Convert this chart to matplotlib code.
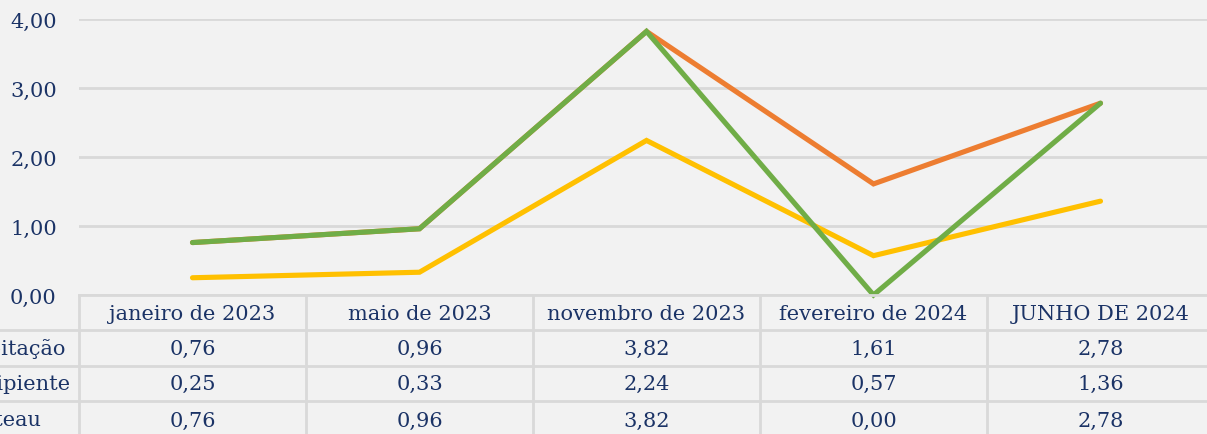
import numpy as np
import matplotlib.pyplot as plt

# data
categories = ['janeiro de 2023', 'maio de 2023', 'novembro de 2023',
              'fevereiro de 2024', 'JUNHO DE 2024']
series_names = ['Precipitação', 'Incipiente', 'Plateau']
precipitacao = [0.76, 0.96, 3.82, 1.61, 2.78]
incipiente = [0.25, 0.33, 2.24, 0.57, 1.36]
plateau = [0.76, 0.96, 3.82, 0.00, 2.78]
colors = ['#ED7D31', '#FFC000', '#70AD47']
yticks = [0, 1, 2, 3, 4]

bg = '#F2F2F2'
grid = '#D9D9D9'
txt = '#1B3366'
W, H = 1207, 435
FS = 15
plt.rcParams['font.family'] = ['DejaVu Serif']

fig = plt.figure(figsize=(W / 100, H / 100), dpi=100, facecolor=bg)

# plot area in pixels: x 79..1214, y 20 (4,00) .. 296 (0,00)
x0, colw = 79, 227
ax = fig.add_axes([x0 / W, (H - 296) / H, 5 * colw / W, 276 / H])
ax.set_facecolor(bg)
ax.set_xlim(-0.5, 4.5)
ax.set_ylim(0, 4)
for s in ax.spines.values():
    s.set_visible(False)
ax.set_yticks(yticks)
ax.set_yticklabels([f'{v:.2f}'.replace('.', ',') for v in yticks])
ax.tick_params(axis='y', length=0, labelsize=FS, labelcolor=txt, pad=16)
ax.set_xticks([])
ax.grid(axis='y', color=grid, lw=2)
ax.set_axisbelow(True)

x = np.arange(len(categories))
all_series = [precipitacao, incipiente, plateau]
for vals, c, z in zip(all_series, colors, [3, 2, 4]):
    ax.plot(x, vals, color=c, lw=3.7, solid_capstyle='round',
            solid_joinstyle='miter', zorder=z, clip_on=False)

# data table below the plot
row_edges = [296, 331, 367, 402, 440]
for yy in row_edges[:4]:
    xs = x0 if yy == 296 else -10
    fig.add_artist(plt.Line2D([xs / W, 1.01], [1 - yy / H, 1 - yy / H],
                              color=grid, lw=2))
for i in range(5):
    xx = x0 + i * colw
    fig.add_artist(plt.Line2D([xx / W, xx / W], [1 - 296 / H, -0.01],
                              color=grid, lw=2))

for i, cat in enumerate(categories):
    cx = (x0 + (i + 0.5) * colw) / W
    cy = 1 - (row_edges[0] + row_edges[1] + 2) / 2 / H
    fig.text(cx, cy, cat, ha='center', va='center', fontsize=FS, color=txt)
    for r, vals in enumerate(all_series):
        cy = 1 - (row_edges[r + 1] + row_edges[r + 2]) / 2 / H
        fig.text(cx, cy, f'{vals[i]:.2f}'.replace('.', ','), ha='center',
                 va='center', fontsize=FS, color=txt)

# row labels, cut off by the left edge as in the source
label_ends = [66, 71, 42]
for r, name in enumerate(series_names):
    cy = 1 - (row_edges[r + 1] + row_edges[r + 2]) / 2 / H
    fig.text(label_ends[r] / W, cy, name, ha='right', va='center',
             fontsize=FS, color=txt)

fig.savefig('out.png', dpi=100, facecolor=bg)
